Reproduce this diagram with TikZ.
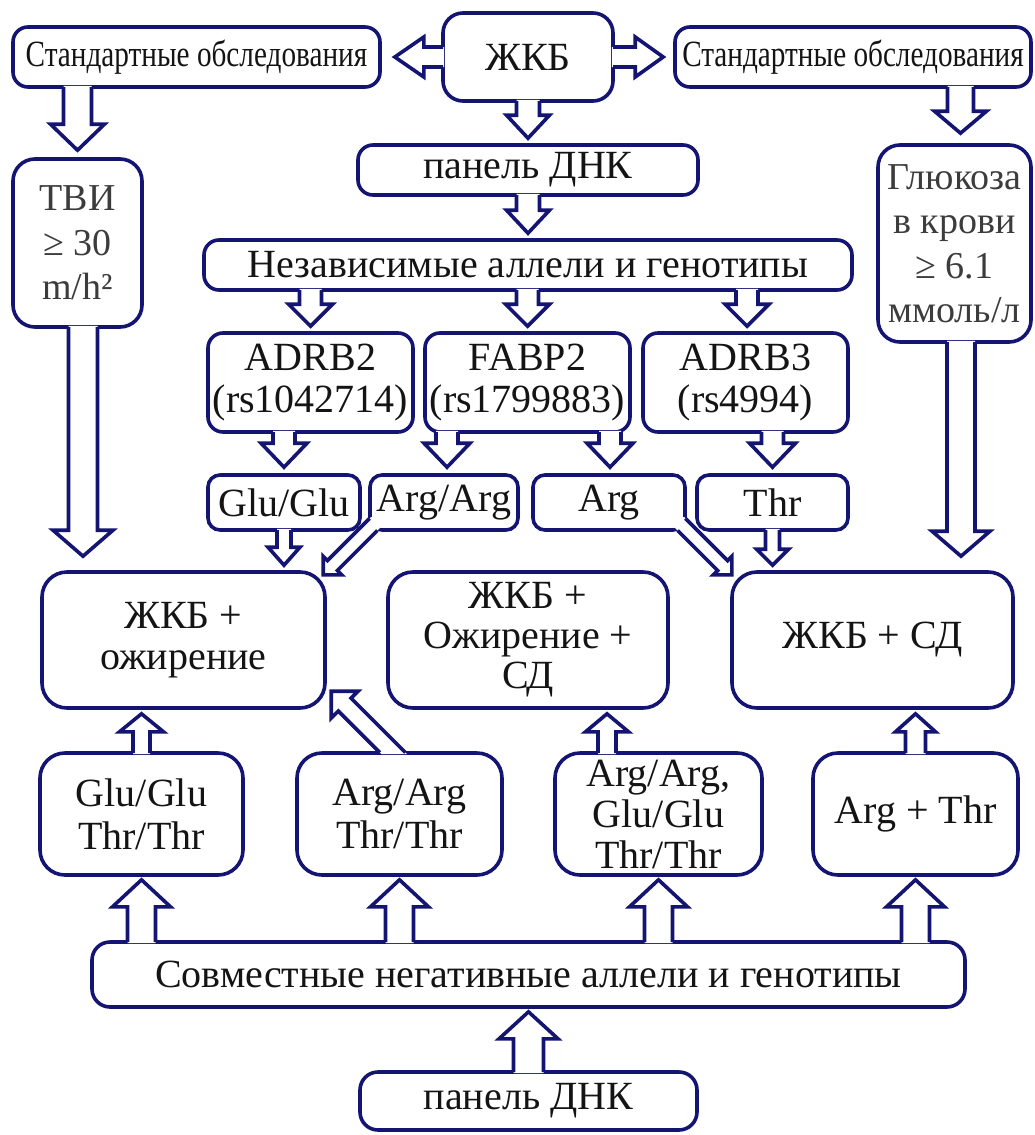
\documentclass[tikz,border=0pt]{standalone}
\usepackage{fontspec}
\setmainfont{Liberation Serif}
\newfontfamily\condfont[FakeStretch=0.79]{Liberation Serif}
\usetikzlibrary{calc}
\definecolor{navy}{RGB}{20,20,115}
\definecolor{txt}{RGB}{20,20,20}
\definecolor{gtxt}{RGB}{60,60,60}
\tikzset{
  box/.style={draw=navy, line width=3.6pt, rounded corners=15pt, fill=white, align=center,
    inner sep=0pt, text=txt, font=\fontsize{40}{42}\selectfont},
  bigbox/.style={box, rounded corners=25pt},
  smallfont/.style={font=\condfont\fontsize{37}{40}\selectfont},
  graytext/.style={text=gtxt, font=\fontsize{38}{44.5}\selectfont},
  arr/.style={draw=navy, line width=3.6pt, line join=miter},
}
% #1 start, #2 tip, #3 shaft half width, #4 head half width, #5 head length
\newcommand\blockarrow[5]{%
  \coordinate (ba-h) at ($(#2)!#5pt!(#1)$);
  \coordinate (ba-s) at ($(#1)!-1.8pt!(#2)$);
  \coordinate (ba-f) at ($(#1)!-3pt!(#2)$);
  \fill[white] ($(ba-f)!#3pt!90:(#2)$) -- ($(ba-h)!#3pt!90:(#2)$) -- ($(ba-h)!#4pt!90:(#2)$) -- (#2)
     -- ($(ba-h)!#4pt!-90:(#2)$) -- ($(ba-h)!#3pt!-90:(#2)$) -- ($(ba-f)!#3pt!-90:(#2)$) -- cycle;
  \draw[arr] ($(ba-s)!#3pt!90:(#2)$) -- ($(ba-h)!#3pt!90:(#2)$) -- ($(ba-h)!#4pt!90:(#2)$) -- (#2)
     -- ($(ba-h)!#4pt!-90:(#2)$) -- ($(ba-h)!#3pt!-90:(#2)$) -- ($(ba-s)!#3pt!-90:(#2)$);
}
% diagonal arrow leaving a bottom-left corner (relative coordinates)
\newcommand\cornerarrow{%
  \fill[white] (3,-15) -- (-40.8,28.8) -- (-45,24.6) -- (-45,43) -- (-26.6,43) -- (-30.9,38.7) -- (12.9,-5.1) -- cycle;
  \draw[arr] (1.4,-13.4) -- (-40.8,28.8) -- (-45,24.6) -- (-45,43) -- (-26.6,43) -- (-30.9,38.7) -- (9.2,-1.4);
}
\begin{document}
\begin{tikzpicture}[x=1pt,y=-1pt]
\useasboundingbox (0,0) rectangle (1035,1135);

% ---------- boxes ----------
\node[box, smallfont, minimum width=367pt, minimum height=60pt] (std1) at (196.5,57) {Стандартные обследования};
\node[box, rounded corners=20pt, minimum width=170pt, minimum height=88pt] (zkb) at (528,57) {ЖКБ};
\node[box, smallfont, minimum width=356pt, minimum height=60pt] (std2) at (853,57) {Стандартные обследования};
\node[box, minimum width=340pt, minimum height=50pt] (panel1) at (528,170) {панель ДНК};
\node[box, minimum width=648pt, minimum height=50pt] (indep) at (528,265) {Независимые аллели и генотипы};
\node[box, graytext, rounded corners=22pt, minimum width=129pt, minimum height=168pt] (tvi) at (77.5,243) {ТВИ\\≥ 30\\m/h²};
\node[box, graytext, rounded corners=22pt, minimum width=153pt, minimum height=197pt] (gluc) at (954.5,243.5) {Глюкоза\\в крови\\≥ 6.1\\ммоль/л};
\node[box, minimum width=205pt, minimum height=99pt] (adrb2) at (310.5,382.5) {ADRB2\\(rs1042714)};
\node[box, minimum width=205pt, minimum height=99pt] (fabp2) at (527.5,382.5) {FABP2\\(rs1799883)};
\node[box, minimum width=205pt, minimum height=99pt] (adrb3) at (745.5,382.5) {ADRB3\\(rs4994)};
\node[box, rounded corners=12pt, minimum width=152pt, minimum height=55pt] (glu) at (284,502.5) {Glu/Glu};
\node[box, rounded corners=12pt, minimum width=148pt, minimum height=55pt] (argarg) at (444,502.5) {Arg/Arg};
\node[box, rounded corners=12pt, minimum width=152pt, minimum height=55pt] (arg) at (609,502.5) {Arg};
\node[box, rounded corners=12pt, minimum width=151pt, minimum height=55pt] (thr) at (772.5,502.5) {Thr};
\node[bigbox, font=\fontsize{40}{41}\selectfont, minimum width=283pt, minimum height=136pt] (fat) at (183.5,640) {ЖКБ +\\ожирение};
\node[bigbox, font=\fontsize{40}{40}\selectfont, minimum width=280pt, minimum height=136pt] (fatsd) at (528,640) {ЖКБ +\\Ожирение +\\СД};
\node[bigbox, minimum width=281pt, minimum height=136pt] (sd) at (872.5,640) {ЖКБ + СД};
\node[bigbox, font=\fontsize{40}{43}\selectfont, minimum width=203pt, minimum height=122pt] (g1) at (141.5,814) {Glu/Glu\\Thr/Thr};
\node[bigbox, font=\fontsize{40}{43}\selectfont, minimum width=205pt, minimum height=122pt] (g2) at (399.5,814) {Arg/Arg\\Thr/Thr};
\node[bigbox, font=\fontsize{40}{41}\selectfont, minimum width=207pt, minimum height=122pt] (g3) at (658.5,814) {Arg/Arg,\\Glu/Glu\\Thr/Thr};
\node[bigbox, minimum width=205pt, minimum height=122pt] (g4) at (915.5,814) {Arg + Thr};
\node[box, rounded corners=18pt, minimum width=873pt, minimum height=65pt] (joint) at (528.5,974.5) {Совместные негативные аллели и генотипы};
\node[box, rounded corners=18pt, minimum width=337pt, minimum height=58pt] (panel2) at (528.5,1101) {панель ДНК};

% ---------- connectors ----------
% from ЖКБ
\coordinate (t1) at ($(std1.east)+(13,0)$);
\blockarrow{zkb.west}{t1}{10}{20}{29}
\coordinate (t2) at ($(std2.west)+(-10,0)$);
\blockarrow{zkb.east}{t2}{10}{20}{28}
\coordinate (t3) at ($(panel1.north)+(0,-5)$);
\blockarrow{zkb.south}{t3}{11.5}{21.5}{23}
\coordinate (t4) at ($(indep.north)+(0,-5)$);
\blockarrow{panel1.south}{t4}{11.5}{21.5}{23}
% from independent alleles
\coordinate (s5) at (adrb2.north |- indep.south);
\coordinate (t5) at ($(adrb2.north)+(0,-5)$);
\blockarrow{s5}{t5}{11}{22}{22}
\coordinate (s6) at (fabp2.north |- indep.south);
\coordinate (t6) at ($(fabp2.north)+(0,-5)$);
\blockarrow{s6}{t6}{11}{22}{22}
\coordinate (s7) at ($(adrb3.north |- indep.south)+(1.5,0)$);
\coordinate (t7) at ($(adrb3.north)+(1.5,-5)$);
\blockarrow{s7}{t7}{11}{22}{22}
% genes to alleles
\coordinate (s8) at (glu.north |- adrb2.south);
\coordinate (t8) at ($(glu.north)+(0,-6)$);
\blockarrow{s8}{t8}{11}{23}{24}
\coordinate (s9) at ($(argarg.north |- fabp2.south)+(3,0)$);
\coordinate (t9) at ($(argarg.north)+(3,-6)$);
\blockarrow{s9}{t9}{11}{23}{24}
\coordinate (s10) at ($(arg.north |- fabp2.south)+(1,0)$);
\coordinate (t10) at ($(arg.north)+(1,-6)$);
\blockarrow{s10}{t10}{11}{23}{24}
\coordinate (s11) at (thr.north |- adrb3.south);
\coordinate (t11) at ($(thr.north)+(0,-6)$);
\blockarrow{s11}{t11}{11}{23}{24}
% alleles to diseases
\coordinate (t12) at ($(glu.south |- fat.north)+(0,-5)$);
\blockarrow{glu.south}{t12}{7}{16}{18}
\coordinate (t15) at ($(thr.south |- sd.north)+(0,-5)$);
\blockarrow{thr.south}{t15}{7}{16}{16}
\begin{scope}[shift={(argarg.south west)}]
  \cornerarrow
\end{scope}
\begin{scope}[shift={(arg.south east)}, xscale=-1]
  \cornerarrow
\end{scope}
% standard examinations
\coordinate (s18) at (tvi.north |- std1.south);
\coordinate (t18) at ($(tvi.north)+(0,-7)$);
\blockarrow{s18}{t18}{14}{27}{26}
\coordinate (s19) at ($(gluc.north |- std2.south)+(6,0)$);
\coordinate (t19) at ($(gluc.north)+(6,-10)$);
\blockarrow{s19}{t19}{13}{26}{22}
\coordinate (s17) at ($(tvi.south)+(5.5,0)$);
\coordinate (t17) at ($(tvi.south |- fat.north)+(5.5,-14)$);
\blockarrow{s17}{t17}{14.5}{30}{26}
\coordinate (s16) at ($(gluc.south)+(6.5,0)$);
\coordinate (t16) at ($(gluc.south |- sd.north)+(6.5,-14)$);
\blockarrow{s16}{t16}{14}{29}{25}
% combined genotypes to diseases
\coordinate (t20) at ($(g1.north |- fat.south)+(0,4)$);
\blockarrow{g1.north}{t20}{8.5}{22}{18}
\coordinate (s22) at ($(g3.north)+(-51.5,0)$);
\coordinate (t22) at ($(g3.north |- fatsd.south)+(-51.5,4)$);
\blockarrow{s22}{t22}{9}{21.5}{18}
\coordinate (t23) at ($(g4.north |- sd.south)+(0,4)$);
\blockarrow{g4.north}{t23}{10}{20}{18}
\begin{scope}[shift={(g2.north west)}]
  \fill[white] (86.3,3) -- (43.1,-40.2) -- (36,-33.1) -- (36,-60) -- (62.9,-60) -- (55.8,-53) -- (111.8,3) -- cycle;
  \draw[arr] (84.6,1.3) -- (43.1,-40.2) -- (36,-33.1) -- (36,-60) -- (62.9,-60) -- (55.8,-53) -- (110.1,1.3);
\end{scope}
% joint negative alleles
\foreach \g in {g1,g2,g3,g4}{
  \coordinate (sj) at (\g.south |- joint.north);
  \coordinate (tj) at ($(\g.south)+(0,3)$);
  \blockarrow{sj}{tj}{14}{29}{27}
}
\coordinate (t28) at ($(joint.south)+(0,3)$);
\blockarrow{panel2.north}{t28}{15}{29.5}{27}
\end{tikzpicture}
\end{document}
